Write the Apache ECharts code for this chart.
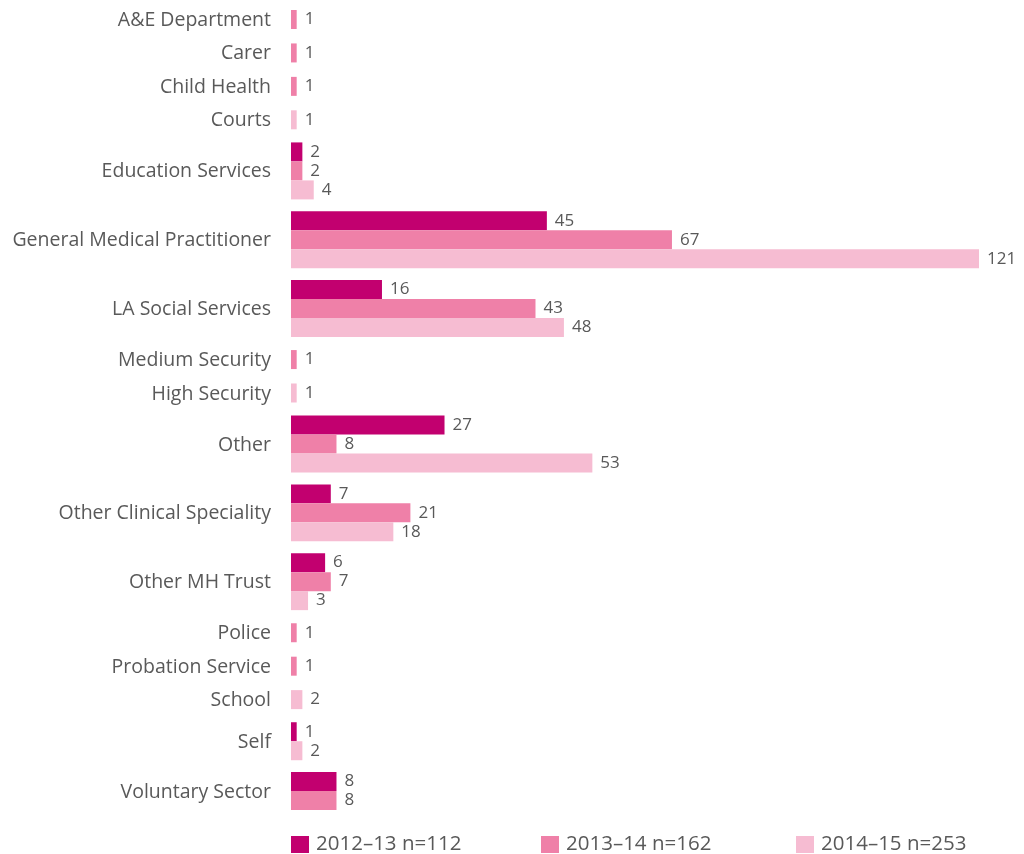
<!DOCTYPE html>
<html>
<head>
<meta charset="utf-8">
<script src="https://cdn.jsdelivr.net/npm/echarts@6/dist/echarts.min.js"></script>
<style>
  html, body { margin: 0; padding: 0; background: #fff; }
  #chart { width: 1024px; height: 854px; }
</style>
</head>
<body>
<div id="chart"></div>
<script>
var categories = [
  "A&E Department", "Carer", "Child Health", "Courts", "Education Services",
  "General Medical Practitioner", "LA Social Services", "Medium Security",
  "High Security", "Other", "Other Clinical Speciality", "Other MH Trust",
  "Police", "Probation Service", "School", "Self", "Voluntary Sector"
];
var seriesNames = ["2012–13 n=112", "2013–14 n=162", "2014–15 n=253"];
var values2012 = [0, 0, 0, 0, 2, 45, 16, 0, 0, 27, 7, 6, 0, 0, 0, 1, 8];
var values2013 = [1, 1, 1, 0, 2, 67, 43, 1, 0, 8, 21, 7, 1, 1, 0, 0, 8];
var values2014 = [0, 0, 0, 1, 4, 121, 48, 0, 1, 53, 18, 3, 0, 0, 2, 2, 0];
var colors = ["#C2006F", "#EF80A8", "#F6BCD2"];

var allValues = [values2012, values2013, values2014];
var textColor = "#595959";
var fontFamily = "'Open Sans', 'Noto Sans', sans-serif";

// zero values get no bar, so each category only takes the rows it needs.
// single-bar groups get a bit more room round them than the bigger ones
var rows = [[], [], []];
var centers = [];
var pos = 0;
var lastRow = 0;
for (var i = 0; i < categories.length; i++) {
  var n = 0;
  for (var s = 0; s < 3; s++) {
    if (allValues[s][i] > 0) n++;
  }
  var pad = n == 1 ? 0.38 : 0.31;
  if (i > 0) pos += pad;
  var first = pos;
  for (var s = 0; s < 3; s++) {
    if (allValues[s][i] > 0) {
      rows[s].push([allValues[s][i], pos]);
      lastRow = pos;
      pos += 1;
    }
  }
  centers.push([0, (first + pos - 1) / 2]);
  pos += pad;
}

function renderBar(params, api) {
  var v = api.value(0);
  var p = api.value(1);
  var start = api.coord([0, p]);
  var end = api.coord([v, p]);
  var h = api.size([0, 1])[1];
  return {
    type: "rect",
    shape: { x: start[0], y: start[1] - h / 2, width: end[0] - start[0], height: h },
    style: { fill: api.visual("color") },
    textContent: {
      style: { text: String(v), fill: textColor, fontSize: 17, fontFamily: fontFamily }
    },
    textConfig: { position: "right", distance: 8 }
  };
}

function renderCategory(params, api) {
  var pt = api.coord([0, api.value(1)]);
  return {
    type: "text",
    x: pt[0] - 20,
    y: pt[1] + 1,
    style: {
      text: categories[params.dataIndex],
      fill: textColor,
      fontSize: 19.5,
      fontFamily: fontFamily,
      align: "right",
      verticalAlign: "middle"
    }
  };
}

var myChart = echarts.init(document.getElementById("chart"));
var series = [];
for (var k = 0; k < 3; k++) {
  series.push({
    name: seriesNames[k],
    type: "custom",
    renderItem: renderBar,
    itemStyle: { color: colors[k] },
    encode: { x: 0, y: 1 },
    data: rows[k]
  });
}
series.push({
  name: "labels",
  type: "custom",
  renderItem: renderCategory,
  encode: { x: 0, y: 1 },
  silent: true,
  data: centers
});

var legendLefts = [291, 541, 796];
var legends = [];
for (var m = 0; m < 3; m++) {
  legends.push({
    data: [seriesNames[m]],
    left: legendLefts[m],
    top: 834,
    padding: 0,
    icon: "rect",
    itemWidth: 18,
    itemHeight: 17,
    itemGap: 0,
    selectedMode: false,
    textStyle: { color: textColor, fontSize: 20.5, fontFamily: fontFamily, padding: [0, 0, 0, 2] }
  });
}

var option = {
  animation: false,
  legend: legends,
  grid: { left: 291, right: 45, top: 10, bottom: 44 },
  xAxis: {
    type: "value",
    min: 0,
    max: 121,
    show: false
  },
  yAxis: {
    type: "value",
    inverse: true,
    min: -0.5,
    max: lastRow + 0.5,
    show: false
  },
  series: series
};
myChart.setOption(option);
</script>
</body>
</html>
